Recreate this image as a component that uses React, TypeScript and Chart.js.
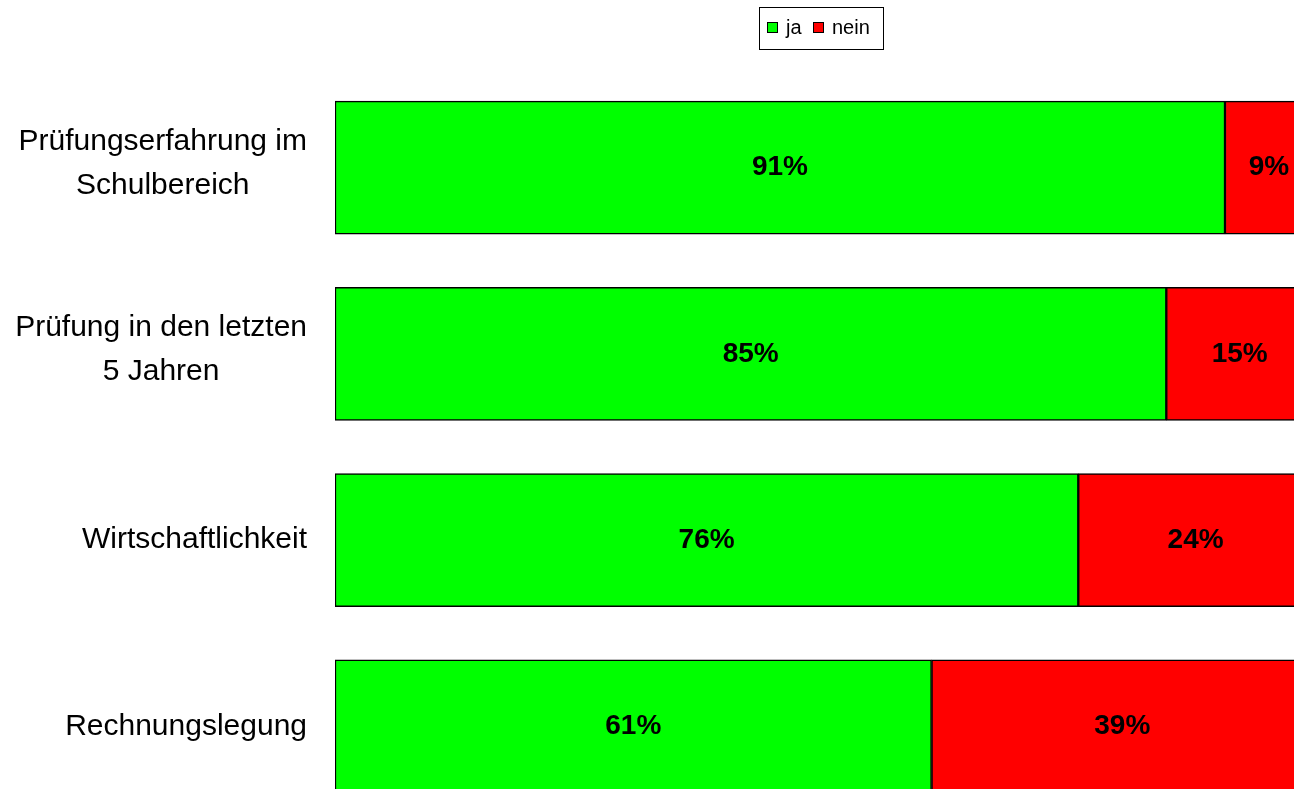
import React, { useEffect, useRef } from "react";
import { Chart, registerables } from "chart.js";

Chart.register(...registerables);

const categories: string[][] = [
  ["Prüfungserfahrung im", "Schulbereich"],
  ["Prüfung in den letzten", "5 Jahren"],
  ["Wirtschaftlichkeit"],
  ["Rechnungslegung"],
];
const jaValues = [91, 85, 76, 61];
const neinValues = [9, 15, 24, 39];
const seriesNames = ["ja", "nein"];
const seriesColors = ["#00FF00", "#FF0000"];

const FONT = "'Liberation Sans', Arial, sans-serif";

const overlayPlugin = {
  id: "overlay",
  afterDraw(chart: any) {
    const ctx = chart.ctx;
    const yScale = chart.scales.y;
    ctx.save();
    // category labels
    ctx.fillStyle = "#000";
    ctx.font = `30px ${FONT}`;
    ctx.textAlign = "center";
    ctx.textBaseline = "middle";
    const labels = chart.data.labels as string[][];
    const rightEdge = 307;
    const lineH = 44;
    labels.forEach((lab, i) => {
      const lines = Array.isArray(lab) ? lab : [lab];
      const maxW = Math.max(...lines.map((l) => ctx.measureText(l).width));
      const cx = rightEdge - maxW / 2;
      const cy = yScale.getPixelForValue(i) + (lines.length > 1 ? -4 : 0);
      const start = cy - ((lines.length - 1) * lineH) / 2;
      lines.forEach((l, k) => ctx.fillText(l, cx, start + k * lineH));
    });
    // value labels
    ctx.font = `bold 28px ${FONT}`;
    chart.data.datasets.forEach((ds: any, di: number) => {
      const meta = chart.getDatasetMeta(di);
      meta.data.forEach((el: any, j: number) => {
        const x = (el.x + el.base) / 2;
        ctx.fillText(`${ds.data[j]}%`, x, el.y);
      });
    });
    // legend
    ctx.lineWidth = 1;
    ctx.strokeStyle = "#000";
    ctx.strokeRect(759.5, 7.5, 124, 42);
    ctx.font = `20px ${FONT}`;
    ctx.textAlign = "left";
    const items = [
      { sx: 767, tx: 786 },
      { sx: 813, tx: 832 },
    ];
    chart.data.datasets.forEach((ds: any, di: number) => {
      const it = items[di];
      ctx.fillStyle = ds.backgroundColor;
      ctx.fillRect(it.sx, 22, 11, 11);
      ctx.strokeRect(it.sx + 0.5, 22.5, 10, 10);
      ctx.fillStyle = "#000";
      ctx.fillText(ds.label, it.tx, 28);
    });
    ctx.restore();
  },
};

export default function App() {
  const ref = useRef<HTMLCanvasElement>(null);
  useEffect(() => {
    if (!ref.current) return;
    const chart = new Chart(ref.current, {
      type: "bar",
      data: {
        labels: categories as any,
        datasets: [
          {
            label: seriesNames[0],
            data: jaValues,
            backgroundColor: seriesColors[0],
            borderColor: "#000",
            borderWidth: 1.5,
            borderSkipped: false,
            barThickness: 133,
          },
          {
            label: seriesNames[1],
            data: neinValues,
            backgroundColor: seriesColors[1],
            borderColor: "#000",
            borderWidth: 1.5,
            borderSkipped: false,
            barThickness: 133,
          },
        ],
      },
      options: {
        indexAxis: "y",
        animation: false,
        responsive: true,
        maintainAspectRatio: false,
        layout: { padding: { left: 335, right: 17, top: 74.5, bottom: 20.5 } },
        scales: {
          x: { stacked: true, min: 0, max: 100, display: false },
          y: { stacked: true, display: false },
        },
        plugins: { legend: { display: false }, tooltip: { enabled: false } },
      },
      plugins: [overlayPlugin],
    });
    return () => chart.destroy();
  }, []);
  return (
    <div style={{ position: "fixed", left: 0, top: 0, right: 0, bottom: 0, overflow: "hidden", background: "#fff" }}>
      <div style={{ position: "absolute", left: 0, top: 0, width: 1330, height: 840 }}>
        <canvas ref={ref} />
      </div>
    </div>
  );
}
